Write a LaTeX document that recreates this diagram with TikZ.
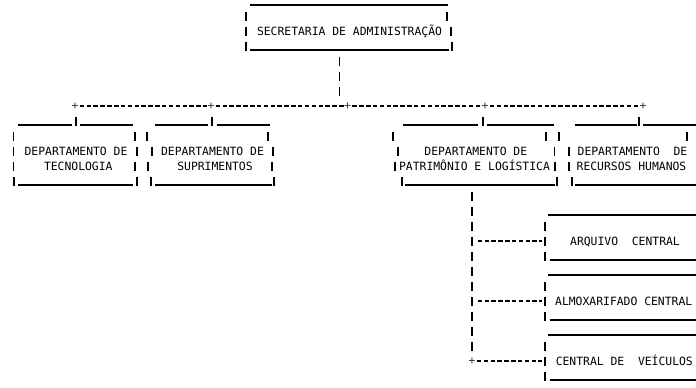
\documentclass[tikz,border=0pt]{standalone}
\usepackage{fontspec}
\newfontfamily\monofnt{DejaVu Sans Mono}
\tikzset{
  uline/.style={line width=1.7pt},
  barl/.style={line width=1.8pt},
  hdash/.style={line width=1.5pt, dash pattern=on 4.5pt off 2.35pt, dash phase=5.68pt},
  vdash/.style={line width=1.8pt, dash pattern=on 9pt off 6pt},
  lbl/.style={font=\monofnt\fontsize{11.38}{13}\selectfont, anchor=base, inner sep=0pt},
  junc/.style={font=\monofnt\fontsize{11.38}{13}\selectfont, inner sep=0pt, text=black!80},
}
\newcommand{\vbr}[2]{\draw[barl] (#1,{15*#2-3.5}) -- (#1,{15*#2+5.5});}
\begin{document}
\begin{tikzpicture}[x=1pt,y=-1pt]
\useasboundingbox (0,0) rectangle (696,388);
% ---------- top box
\draw[uline] (250,5) -- (448,5);
\vbr{246}{1}\vbr{246}{2}\vbr{246}{3}
\vbr{447}{1}\vbr{451}{2}\vbr{452}{3}
\draw[uline] (250,50) -- (449,50);
\node[lbl] (sec) at (349.5,35.65) {SECRETARIA DE ADMINISTRAÇÃO};
\coordinate (secb) at (339.5,56.5);
\coordinate (secj) at (339.5,95.5);
\draw[vdash] (secb) -- (secj);
% ---------- junction row
\node[junc] (j1) at (75,106) {+};
\node[junc] (j2) at (211,106) {+};
\node[junc] (j3) at (347.5,106) {+};
\node[junc] (j4) at (485,106) {+};
\node[junc] (j5) at (643,106) {+};
\draw[hdash] (j1.east) -- (j2.west);
\draw[hdash] (j2.east) -- (j3.west);
\draw[hdash] (j3.east) -- (j4.west);
\draw[hdash] (j4.east) -- (j5.west);
% stubs from junctions to boxes
\vbr{76}{8}\vbr{211.7}{8}\vbr{483.3}{8}\vbr{639.3}{8}
% ---------- box 1
\draw[uline] (18,125) -- (72,125) (80,125) -- (133,125);
\vbr{13.5}{9}\vbr{13.5}{10}\vbr{13.5}{11}\vbr{14}{12}
\vbr{135}{9}\vbr{137.3}{10}\vbr{135}{11}\vbr{137.3}{12}
\draw[uline] (18,185) -- (133,185);
\node[lbl] (d1a) at (76,155.65) {DEPARTAMENTO DE};
\node[lbl] (d1b) at (78.3,170.65) {TECNOLOGIA};
% ---------- box 2
\draw[uline] (155,125) -- (208,125) (216.7,125) -- (270,125);
\vbr{146.7}{9}\vbr{151.7}{10}\vbr{148.3}{11}\vbr{150.7}{12}
\vbr{268.3}{9}\vbr{273.3}{10}\vbr{271.7}{11}\vbr{274}{12}
\draw[uline] (155,185) -- (271.7,185);
\node[lbl] (d2a) at (212.5,155.65) {DEPARTAMENTO DE};
\node[lbl] (d2b) at (215,170.65) {SUPRIMENTOS};
% ---------- box 3
\draw[uline] (403.3,125) -- (478.3,125) (486.7,125) -- (554,125);
\vbr{392.7}{9}\vbr{398.3}{10}\vbr{395}{11}\vbr{401.7}{12}
\vbr{545.7}{9}\vbr{554.5}{10}\vbr{555}{11}\vbr{557}{12}
\draw[uline] (405,185) -- (555,185);
\node[lbl] (d3a) at (475.8,155.65) {DEPARTAMENTO DE};
\node[lbl] (d3b) at (474.5,170.65) {PATRIMÔNIO E LOGÍSTICA};
% ---------- box 4
\draw[uline] (575,125) -- (636.7,125) (643.3,125) -- (696,125);
\vbr{559}{9}\vbr{569}{10}\vbr{569}{11}\vbr{572}{12}
\vbr{686.7}{9}
\draw[uline] (575,185) -- (696,185);
\node[lbl] (d4a) at (632.5,155.65) {DEPARTAMENTO\ \ DE};
\node[lbl] (d4b) at (631.5,170.65) {RECURSOS HUMANOS};
% ---------- vertical connector below box 3
\coordinate (p3b) at (472,191.5);
\node[junc] (j6) at (472,361) {+};
\draw[vdash] (p3b) -- ([yshift=6pt]j6.north);
\coordinate (ja) at (472,241);
\coordinate (jb) at (472,301);
\coordinate (ea) at (545,241);
\coordinate (eb) at (545,301);
\coordinate (ec) at (545,361);
\draw[hdash] ([xshift=4.5pt]ja) -- ([xshift=-3.5pt]ea);
\draw[hdash] ([xshift=4.5pt]jb) -- ([xshift=-3.5pt]eb);
\draw[hdash] (j6.east) -- ([xshift=-3.5pt]ec);
% ---------- box A
\draw[uline] (548.3,215) -- (696,215);
\vbr{545}{15}\vbr{545}{16}\vbr{545}{17}
\draw[uline] (550,260) -- (696,260);
\node[lbl] (ba) at (625,245.65) {ARQUIVO\ \ CENTRAL};
% ---------- box B
\draw[uline] (548.3,275) -- (696,275);
\vbr{545}{19}\vbr{545}{20}\vbr{545}{21}
\draw[uline] (550,320) -- (696,320);
\node[lbl] (bb) at (623.7,305.65) {ALMOXARIFADO CENTRAL};
% ---------- box C
\draw[uline] (548.3,335) -- (696,335);
\vbr{545}{23}\vbr{545}{24}\vbr{545}{25}
\draw[uline] (550,380) -- (696,380);
\node[lbl] (bc) at (624.3,365.65) {CENTRAL DE\ \ VEÍCULOS};
\end{tikzpicture}
\end{document}
